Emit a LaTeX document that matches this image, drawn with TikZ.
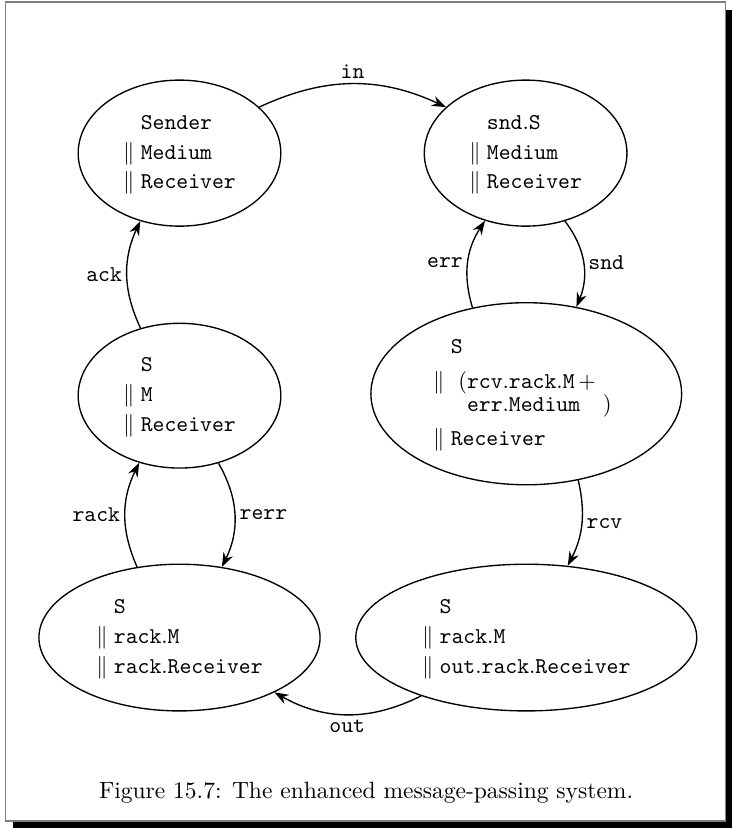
\documentclass[tikz,border=0pt]{standalone}
\usepackage{amsmath,amssymb}
\usepackage{xcolor}
\usetikzlibrary{arrows.meta,shapes.geometric}
\definecolor{ink}      {HTML}{000000}
\definecolor{framegray}{HTML}{7F7F7F}
\newcommand{\pname}[1]{$\mathtt{#1}$}
\newcommand{\pp}{$\parallel$}
\renewcommand{\arraystretch}{1.1}
\tikzset{
  state/.style ={ellipse, draw=ink, line width=0.6pt, inner sep=0pt,
                 minimum width=3.15cm, minimum height=2.27cm},
  trans/.style ={-{Stealth[length=2.2mm,width=1.6mm]}, line width=0.6pt},
  lbl/.style   ={font=\ttfamily, inner sep=2pt},
}

\begin{document}
\begin{tikzpicture}[x=1cm,y=1cm]
  \useasboundingbox (0,0) rectangle (11.37,-12.87);
  % boxed figure with its shadow
  \fill[ink] (0.20,-0.16) rectangle (11.37,-12.87);
  \draw[framegray, fill=white, line width=0.6pt] (0.09,-0.03) rectangle (11.28,-12.76);

  \node[state] (sender) at (2.79,-2.38) {%
    \begin{tabular}{@{}l@{\;}l@{}}
      & \pname{Sender}\\
      \pp & \pname{Medium}\\
      \pp & \pname{Receiver}
    \end{tabular}};
  \node[state] (snds) at (8.17,-2.38) {%
    \begin{tabular}{@{}l@{\;}l@{}}
      & \pname{snd.S}\\
      \pp & \pname{Medium}\\
      \pp & \pname{Receiver}
    \end{tabular}};
  \node[state, minimum width=4.83cm, minimum height=2.83cm] (choice) at (8.18,-6.12) {%
    \begin{tabular}{@{}l@{\;}l@{}}
      & \pname{S}\\[2pt]
      \pp & \ $($\pname{rcv.rack.M}$\,+$\\[-3pt]
      & \ \phantom{$($}\pname{err.Medium}\quad$)$\\[2pt]
      \pp & \pname{Receiver}
    \end{tabular}\hspace*{0.12cm}};
  \node[state, minimum height=2.25cm] (sm) at (2.79,-6.15) {%
    \begin{tabular}{@{}l@{\;}l@{}}
      & \pname{S}\\
      \pp & \pname{M}\\
      \pp & \pname{Receiver}
    \end{tabular}};
  \node[state, minimum width=4.37cm, minimum height=2.28cm] (rackm) at (2.79,-9.91) {%
    \begin{tabular}{@{}l@{\;}l@{}}
      & \pname{S}\\
      \pp & \pname{rack.M}\\
      \pp & \pname{rack.Receiver}
    \end{tabular}};
  \node[state, minimum width=5.30cm, minimum height=2.28cm] (outrack) at (8.18,-9.91) {%
    \begin{tabular}{@{}l@{\;}l@{}}
      & \pname{S}\\
      \pp & \pname{rack.M}\\
      \pp & \pname{out.rack.Receiver}
    \end{tabular}};

  \draw[trans] (sender.30) to[bend left=25] node[lbl,above] {in} (snds.150);
  \draw[trans] (snds.-60) to[bend left=30] node[lbl,right] {snd} (choice.60);
  \draw[trans] (choice.122) to[bend left=25] node[lbl,left] {err} (snds.239);
  \draw[trans] (sm.120) to[bend left=25] node[lbl,left] {ack} (sender.240);
  \draw[trans] (rackm.121) to[bend left=25] node[lbl,left] {rack} (sm.239);
  \draw[trans] (sm.-60) to[bend left=28] node[lbl,right] {rerr} (rackm.59);
  \draw[trans] (choice.-59) to[bend left=20] node[lbl,right] {rcv} (outrack.60);
  \draw[trans] (outrack.209) to[bend left=28] node[lbl,below] {out} (rackm.-30);

  \node[font=\fontsize{10.4pt}{12pt}\selectfont] (caption) at (5.69,-12.32)
    {Figure 15.7: The enhanced message-passing system.};
\end{tikzpicture}
\end{document}
